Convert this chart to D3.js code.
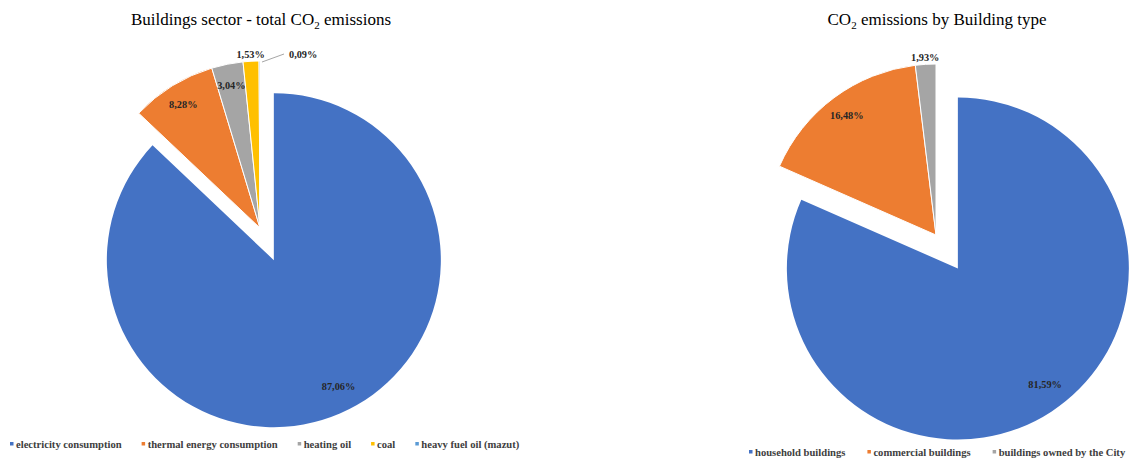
<!doctype html>
<html lang="en">
<head>
<meta charset="UTF-8">
<title>CO2 emissions - buildings</title>
<script src="https://cdn.jsdelivr.net/npm/d3@7"></script>
<style>
    body{ margin:0; background:#fff; }
    svg{ display:block; }
    text{ font-family:"Liberation Serif","Times New Roman",serif; }
    .title{ font-size:17px; fill:#000; }
    .lbl{ font-size:10.3px; font-weight:700; fill:#262626; }
    .leg{ font-size:10.6px; font-weight:700; fill:#404040; }
</style>
</head>
<body>
<svg width="1130" height="461"></svg>
<script>
    // ---- data ----
    const sectorCats   = ["electricity consumption","thermal energy consumption","heating oil","coal","heavy fuel oil (mazut)"];
    const sectorVals   = [87.06, 8.28, 3.04, 1.53, 0.09];
    const sectorLabels = ["87,06%","8,28%","3,04%","1,53%","0,09%"];

    const typeCats   = ["household buildings","commercial buildings","buildings owned by the City"];
    const typeVals   = [81.59, 16.48, 1.93];
    const typeLabels = ["81,59%","16,48%","1,93%"];

    const colors = ["#4472C4","#ED7D31","#A5A5A5","#FFC000","#5B9BD5"];

    const svg = d3.select("svg");

    function drawPie(opt){
        const pie = d3.pie().sort(null).value(d=>d.v)(opt.cats.map((c,i)=>({c:c, v:opt.vals[i], l:opt.labels[i], i:i})));
        const arc = d3.arc().innerRadius(0).outerRadius(opt.r);
        const g = svg.append("g").attr("transform",`translate(${opt.cx},${opt.cy})`);

        // first slice is pulled out along its bisector, the rest stays put
        const off = d=>{
            if(d.index!==0) return [0,0];
            const a=(d.startAngle+d.endAngle)/2;
            return [Math.sin(a)*opt.explode, -Math.cos(a)*opt.explode];
        };

        const slices = g.selectAll("g.slice").data(pie).enter().append("g")
            .attr("class","slice")
            .attr("transform",d=>`translate(${off(d)})`);

        slices.append("path")
            .attr("d",arc)
            .attr("fill",d=>colors[d.index])
            .attr("stroke","#fff")
            .attr("stroke-width",d=>d.index===0?0:1);

        // labels
        slices.each(function(d){
            let a=(d.startAngle+d.endAngle)/2;
            const share = d.value/d3.sum(opt.vals);
            const s = d3.select(this);
            if(share < 0.01){
                // leader line for the very small slice
                const p0=[Math.sin(d.endAngle)*opt.r+2, -Math.cos(d.endAngle)*opt.r+1];
                const p1=[p0[0]+22, p0[1]-8];
                s.append("path").attr("d",d3.line()([p0,p1]))
                    .attr("stroke","#a6a6a6").attr("fill","none").attr("stroke-width",1);
                s.append("text").attr("class","lbl").attr("x",p1[0]+5).attr("y",p1[1]+4).text(d.data.l);
                return;
            }
            let rr = share < 0.025 ? opt.r*1.045 : opt.r*0.875;
            if(share > 0.5){ a -= 4*Math.PI/180; rr = opt.r*0.845; } // big slice label sits a bit off the bisector
            s.append("text").attr("class","lbl")
                .attr("text-anchor","middle")
                .attr("x",Math.sin(a)*rr)
                .attr("y",-Math.cos(a)*rr+4)
                .text(d.data.l);
        });

        // title
        const t = svg.append("text").attr("class","title")
            .attr("x",opt.tx).attr("y",25).attr("text-anchor","middle");
        opt.title.forEach(p=>{
            if(p.sub) t.append("tspan").attr("font-size","11px").attr("dy",4).text(p.t);
            else t.append("tspan").attr("dy",p.up?-4:null).text(p.t);
        });

        // legend
        let x = opt.lx;
        opt.cats.forEach((c,i)=>{
            svg.append("rect").attr("x",x).attr("y",opt.ly-6).attr("width",3.5).attr("height",3.5)
                .attr("fill",colors[i]);
            const tx = svg.append("text").attr("class","leg").attr("x",x+6).attr("y",opt.ly).text(c);
            x += 6 + tx.node().getComputedTextLength() + opt.lgap;
        });
    }

    drawPie({
        cats:sectorCats, vals:sectorVals, labels:sectorLabels,
        cx:260, cy:228, r:167, explode:35,
        tx:261, title:[{t:"Buildings sector - total CO"},{t:"2",sub:true},{t:" emissions",up:true}],
        lx:10, ly:448, lgap:20
    });

    drawPie({
        cats:typeCats, vals:typeVals, labels:typeLabels,
        cx:936, cy:235, r:171, explode:40,
        tx:937, title:[{t:"CO"},{t:"2",sub:true},{t:" emissions by Building type",up:true}],
        lx:749, ly:456, lgap:22
    });
</script>
</body>
</html>
